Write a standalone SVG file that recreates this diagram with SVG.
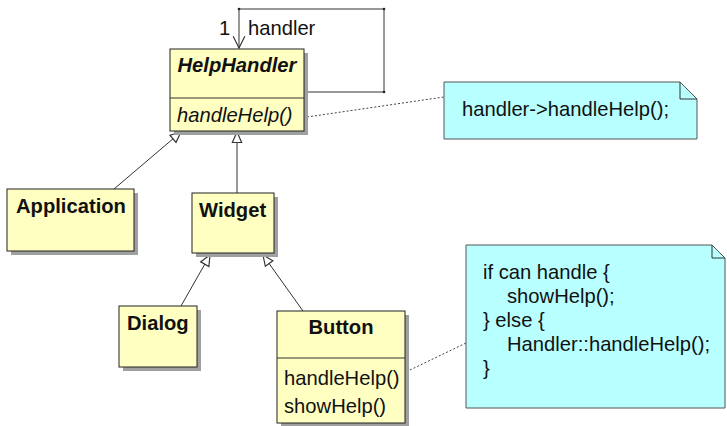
<svg xmlns="http://www.w3.org/2000/svg" width="727" height="426" viewBox="0 0 727 426">
<style>
.box{fill:#ffffc2;stroke:#222;stroke-width:1}
.shadow{fill:#a0a0a0}
.note{fill:#b8ffff;stroke:#555;stroke-width:1}
.t{font-family:"Liberation Sans",Arial,sans-serif;font-size:20.2px;fill:#111}
.b{font-weight:bold}
.i{font-style:italic}
.edge{stroke:#333;stroke-width:1;fill:none}
.dash{stroke:#444;stroke-width:1;fill:none;stroke-dasharray:2,2}
</style>
<defs>
<marker id="gen" markerUnits="userSpaceOnUse" markerWidth="14" markerHeight="14" refX="10" refY="5" orient="auto" viewBox="0 0 12 10">
<path d="M1,1 L10,5 L1,9 Z" fill="#fff" stroke="#333" stroke-width="1"/>
</marker>
<marker id="open" markerUnits="userSpaceOnUse" markerWidth="14" markerHeight="14" refX="11" refY="6" orient="auto" viewBox="0 0 12 12">
<path d="M1,1 L11,6 L1,11" fill="none" stroke="#333" stroke-width="1"/>
</marker>
</defs>
<g id="connectors">
<path class="edge" d="M304,92 H384 V9 H239 V48" marker-end="url(#open)"/>
<circle cx="384" cy="92" r="1.3" fill="#222"/>
<circle cx="384" cy="9" r="1.3" fill="#222"/>
<circle cx="239" cy="9" r="1.3" fill="#222"/>
<text class="t" x="219" y="35">1</text>
<text class="t" x="248" y="35">handler</text>
<line class="edge" x1="114" y1="189" x2="181" y2="132" marker-end="url(#gen)"/>
<line class="edge" x1="237" y1="193" x2="237" y2="132" marker-end="url(#gen)"/>
<line class="edge" x1="181" y1="306" x2="210" y2="255" marker-end="url(#gen)"/>
<line class="edge" x1="303" y1="311" x2="263" y2="255" marker-end="url(#gen)"/>
<line class="dash" x1="307" y1="117" x2="444" y2="97"/>
<line class="dash" x1="410" y1="370" x2="466" y2="343"/>
</g>
<g id="HelpHandler">
<rect class="shadow" x="174" y="53" width="134" height="82"/>
<rect class="box" x="170" y="49" width="134" height="82"/>
<line class="edge" x1="170" y1="98" x2="304" y2="98" stroke="#222"/>
<text class="t b i" x="237" y="72" text-anchor="middle">HelpHandler</text>
<text class="t i" x="177" y="122">handleHelp()</text>
</g>
<g id="Application">
<rect class="shadow" x="11" y="193" width="127" height="62"/>
<rect class="box" x="7" y="189" width="127" height="62"/>
<text class="t b" x="16" y="213">Application</text>
</g>
<g id="Widget">
<rect class="shadow" x="196" y="197" width="82" height="60"/>
<rect class="box" x="192" y="193" width="82" height="60"/>
<text class="t b" x="199" y="217">Widget</text>
</g>
<g id="Dialog">
<rect class="shadow" x="123" y="310" width="78" height="61"/>
<rect class="box" x="119" y="306" width="78" height="61"/>
<text class="t b" x="127" y="330">Dialog</text>
</g>
<g id="Button">
<rect class="shadow" x="281" y="315" width="128" height="112"/>
<rect class="box" x="277" y="311" width="128" height="112"/>
<line class="edge" x1="277" y1="358" x2="405" y2="358" stroke="#222"/>
<text class="t b" x="341" y="334" text-anchor="middle">Button</text>
<text class="t" x="284" y="385">handleHelp()</text>
<text class="t" x="284" y="413">showHelp()</text>
</g>
<g id="note1">
<path class="note" d="M444,82 H680 L697,99 V139 H444 Z"/>
<path class="edge" d="M680,82 V99 H697" stroke="#555"/>
<text class="t" x="462" y="116">handler-&gt;handleHelp();</text>
</g>
<g id="note2">
<path class="note" d="M466,245 H712 L725,258 V408 H466 Z"/>
<path class="edge" d="M712,245 V258 H725" stroke="#555"/>
<text class="t" x="483" y="279">if can handle {</text>
<text class="t" x="507" y="303">showHelp();</text>
<text class="t" x="483" y="327">} else {</text>
<text class="t" x="507" y="351">Handler::handleHelp();</text>
<text class="t" x="483" y="375">}</text>
</g>
</svg>
